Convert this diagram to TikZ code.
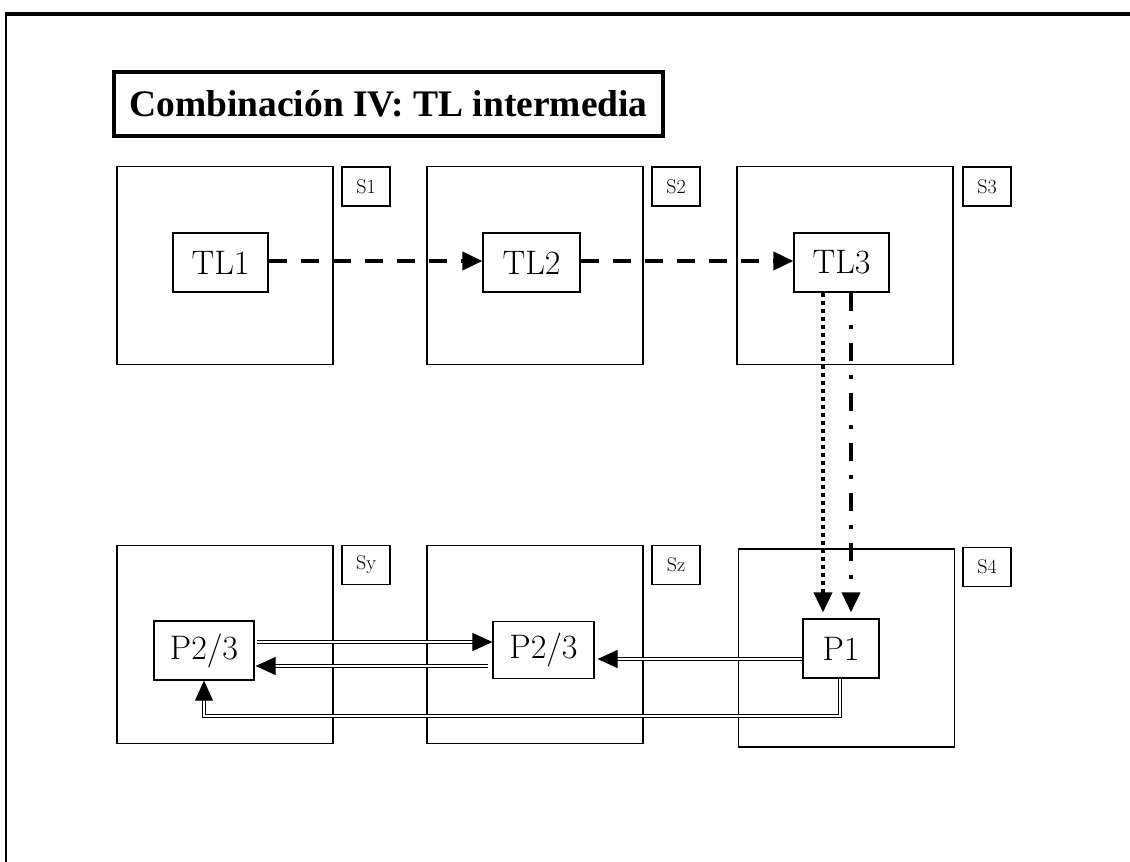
\documentclass[tikz,border=0pt]{standalone}
\usepackage{fontspec}
\newfontfamily\titlefont{Liberation Serif}
\usetikzlibrary{arrows.meta,calc}
\begin{document}
\begin{tikzpicture}[x=1pt,y=-1pt,
  sbox/.style={draw,line width=1.2pt,inner sep=0pt,minimum width=216pt,minimum height=198pt},
  lab/.style={draw,line width=1.2pt,inner sep=0pt,minimum width=48pt,minimum height=39pt,font=\fontsize{20}{20}\selectfont},
  proc/.style={draw,line width=1.2pt,inner sep=0pt,minimum height=59pt,font=\fontsize{34}{34}\selectfont},
  tip/.style={-{Triangle[length=20pt,width=18pt]}},
  dsh/.style={tip,line width=4pt,dash pattern=on 18pt off 14pt},
  dtd/.style={tip,line width=4pt,dash pattern=on 4pt off 4pt},
  dshdot/.style={tip,line width=4pt,dash pattern=on 18pt off 14pt on 4pt off 14pt},
  dbl/.style={draw,line width=1pt,double=white,double distance=2.2pt},
]
\useasboundingbox (0,0) rectangle (1130,862);
% outer frame
\draw[line width=3.5pt] (4.5,14) -- (1130,14);
\draw[line width=2.5pt] (6,12.5) -- (6,862);
% title
\node[draw,line width=3.8pt,inner sep=0pt,minimum width=549pt,minimum height=64pt,
      font=\titlefont\bfseries\fontsize{37.5}{37.5}\selectfont] (title) at (388.5,104) {Combinación IV: TL intermedia};
% system boxes
\node[sbox] (S1) at (225,265.5) {};
\node[sbox] (S2) at (535,265.5) {};
\node[sbox] (S3) at (845,265.5) {};
\node[lab] (L1) at (366,186.5) {S1};
\node[lab] (L2) at (676,186.5) {S2};
\node[lab] (L3) at (987,186.5) {S3};
\node[sbox] (Sy) at (225,644.5) {};
\node[sbox] (Sz) at (535,644.5) {};
\node[sbox] (S4) at (846.5,648) {};
\node[lab] (Ly) at (366,565) {Sy};
\node[lab] (Lz) at (676,565) {Sz};
\node[lab] (L4) at (987,567) {S4};
% process boxes
\node[proc,minimum width=95pt] (TL1) at (220.5,262.5) {TL1};
\node[proc,minimum width=97pt] (TL2) at (531.5,262.5) {TL2};
\node[proc,minimum width=95pt] (TL3) at (841.5,262.5) {TL3};
\node[proc,minimum width=100pt] (Pa) at (204,650.5) {P2/3};
\node[proc,minimum width=101pt,minimum height=57pt] (Pb) at (543.5,650) {P2/3};
\node[proc,minimum width=76pt] (P1) at (841,648.5) {P1};
% dashed arrows
\coordinate (ydash) at (0,261);
\draw[dsh] (TL1.east |- ydash) -- (TL2.west |- ydash);
\draw[dsh] (TL2.east |- ydash) -- (TL3.west |- ydash);
% vertical arrows
\coordinate (xdot) at (823,0);
\coordinate (xdd) at (851,0);
\draw[dtd,shorten >=6pt] (TL3.south -| xdot) -- (P1.north -| xdot);
\draw[dshdot,shorten >=6pt] (TL3.south -| xdd) -- (P1.north -| xdd);
% double arrows
\coordinate (y1) at (0,642);
\coordinate (y2) at (0,666);
\coordinate (y3) at (0,659);
\coordinate (r) at (840,716);
\draw[dbl,tip,shorten <=2pt] (Pa.east |- y1) -- (Pb.west |- y1);
\draw[dbl,tip,shorten <=4pt,shorten >=1pt] (Pb.west |- y2) -- (Pa.east |- y2);
\draw[dbl,tip,shorten >=3pt] (P1.west |- y3) -- (Pb.east |- y3);
\draw[dbl,tip] (P1.south -| r) -- (r) -- (r -| Pa.south) -- (Pa.south);
\end{tikzpicture}
\end{document}
